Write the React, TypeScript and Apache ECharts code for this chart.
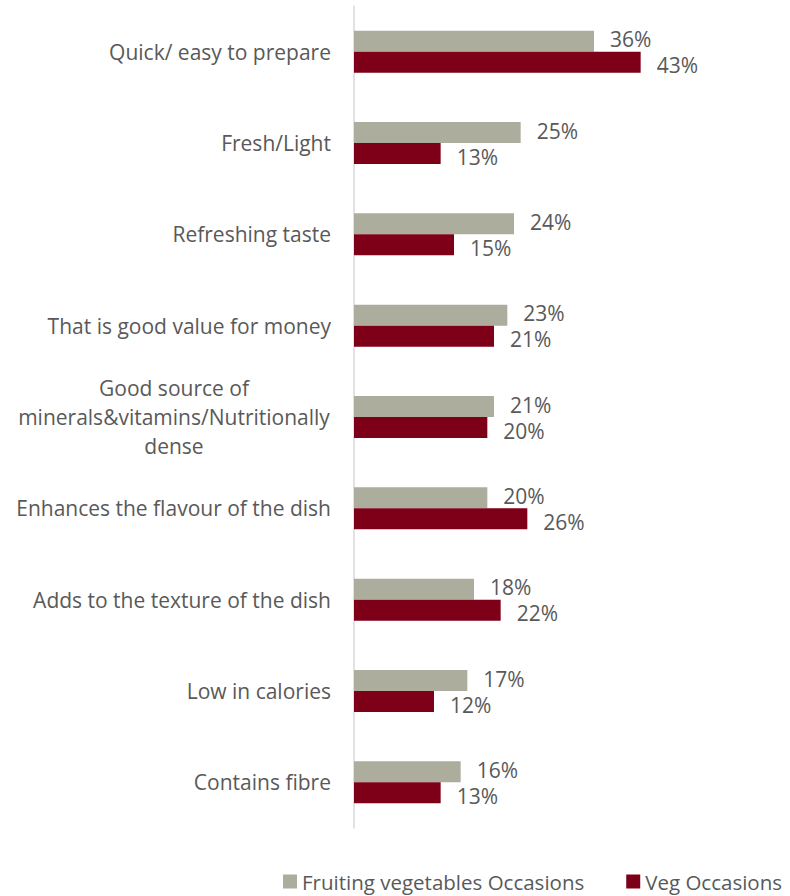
import React, { useEffect, useRef } from "react";
import * as echarts from "echarts";

const categories = [
  "Quick/ easy to prepare",
  "Fresh/Light",
  "Refreshing taste",
  "That is good value for money",
  "Good source of\nminerals&vitamins/Nutritionally\ndense",
  "Enhances the flavour of the dish",
  "Adds to the texture of the dish",
  "Low in calories",
  "Contains fibre",
];
const fruitingVeg = [36, 25, 24, 23, 21, 20, 18, 17, 16];
const vegOcc = [43, 13, 15, 21, 20, 26, 22, 12, 13];
const seriesNames = ["Fruiting vegetables Occasions", "Veg Occasions"];

const FONT = "Open Sans";
const TXT = "#595959";
const FS = 21;

export default function App() {
  const ref = useRef<HTMLDivElement>(null);
  useEffect(() => {
    const chart = echarts.init(ref.current!, undefined, { renderer: "svg" });
    const lbl = (dy: number) => ({
      show: true,
      position: "right",
      distance: 16,
      offset: [0, dy],
      formatter: "{c}%",
      color: TXT,
      fontFamily: FONT,
      fontSize: FS,
      lineHeight: 18,
    });
    chart.setOption({
      animation: false,
      textStyle: { fontFamily: FONT },
      grid: { left: 354, top: 6, width: 300, height: 822, containLabel: false },
      legend: {
        top: 871,
        left: 283,
        padding: 0,
        itemWidth: 14,
        itemHeight: 14,
        itemGap: 42,
        itemStyle: { borderWidth: 0 },
        icon: "rect",
        textStyle: { fontFamily: FONT, fontSize: 20.5, color: TXT },
        data: seriesNames,
      },
      xAxis: {
        type: "value",
        min: 0,
        max: 45,
        show: false,
      },
      yAxis: {
        type: "category",
        inverse: true,
        data: categories,
        axisTick: { show: false },
        axisLine: { show: true, lineStyle: { color: "#D9D9D9", width: 1.5 } },
        axisLabel: {
          margin: 23,
          color: TXT,
          fontFamily: FONT,
          fontSize: FS,
          lineHeight: 29,
          formatter: (v: string) => {
            if (v.indexOf("\n") >= 0) {
              return v
                .split("\n")
                .map((l) => "{c|" + l + "}")
                .join("\n");
            }
            return v;
          },
          rich: {
            c: {
              width: 314,
              align: "center",
              color: TXT,
              fontFamily: FONT,
              fontSize: FS,
              lineHeight: 29,
            },
          },
        },
      },
      series: [
        {
          name: seriesNames[0],
          type: "bar",
          data: fruitingVeg,
          barWidth: 21,
          barGap: "0%",
          itemStyle: { color: "#ADAD9D" },
          label: lbl(-2),
        },
        {
          name: seriesNames[1],
          type: "bar",
          data: vegOcc,
          barWidth: 21,
          barGap: "0%",
          itemStyle: { color: "#7E0018" },
          label: lbl(3),
        },
      ],
    });
    return () => chart.dispose();
  }, []);
  return <div ref={ref} style={{ width: 790, height: 896, position: "absolute", left: 0, top: 0 }} />;
}
